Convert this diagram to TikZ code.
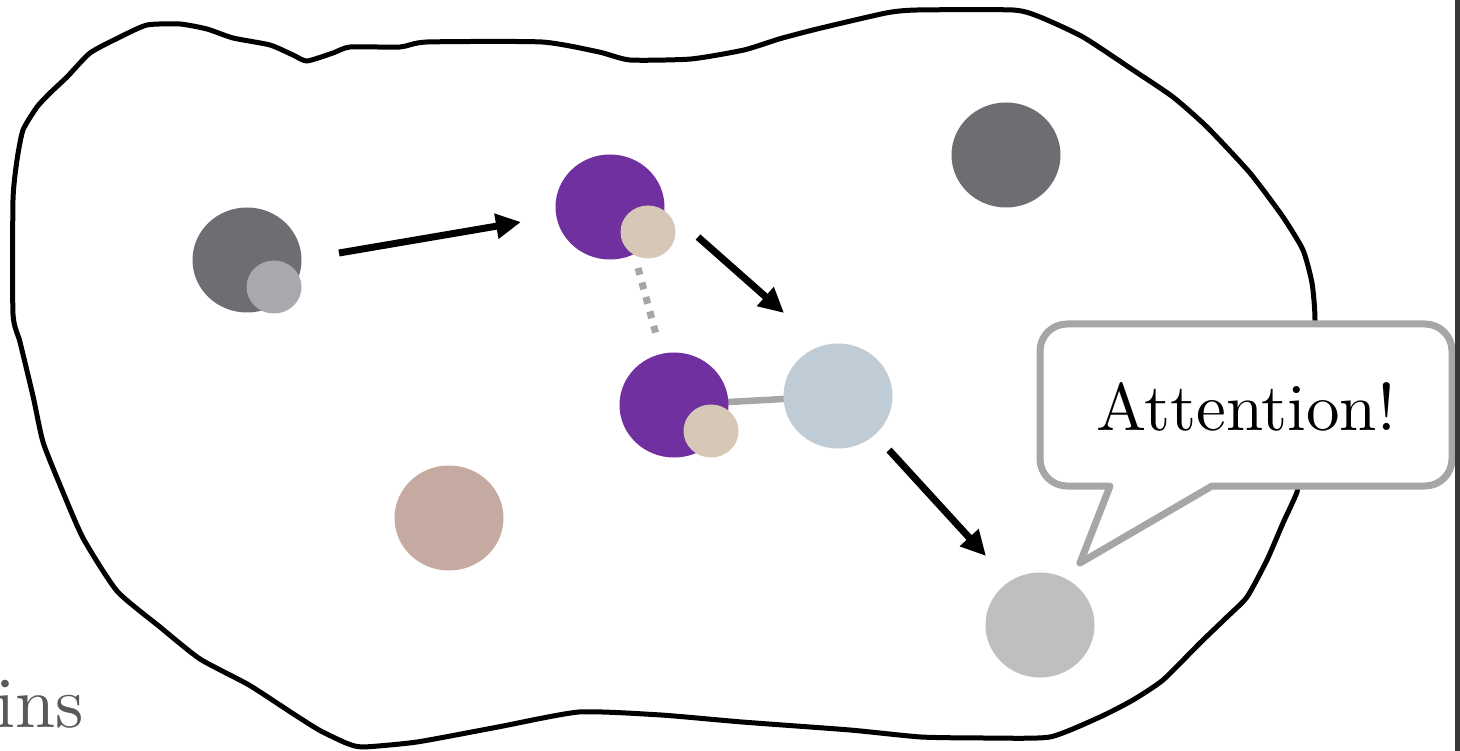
\documentclass[tikz,border=0pt]{standalone}
\usetikzlibrary{arrows.meta,shapes.geometric}
\pgfdeclarelayer{back}
\pgfsetlayers{back,main}
\definecolor{darkball}{HTML}{6E6D72}
\definecolor{lightdisc}{HTML}{A9A8AC}
\definecolor{purpleball}{HTML}{7030A0}
\definecolor{beigedisc}{HTML}{D6C7B6}
\definecolor{blueball}{HTML}{BFCBD5}
\definecolor{tanball}{HTML}{C4AAA0}
\definecolor{greyball}{HTML}{BFBFBF}
\definecolor{conngrey}{HTML}{A6A6A6}
\definecolor{barcol}{HTML}{383838}
\definecolor{inscol}{HTML}{58585D}
\begin{document}
\begin{tikzpicture}[x=1pt,y=-1pt,
  bigdisc/.style={ellipse, minimum width=109pt, minimum height=105pt, inner sep=0pt, draw=none, fill=#1},
  smalldisc/.style={ellipse, minimum width=55pt, minimum height=53pt, inner sep=0pt, draw=none, fill=#1},
  arrowline/.style={line width=7pt, -{Triangle[length=25pt,width=24pt]}},
  blobline/.style={line width=5pt, line join=round},
  calloutline/.style={line width=7pt, draw=conngrey, fill=white, line join=round}]
\useasboundingbox (0,0) rectangle (1460,751);
\begin{pgfonlayer}{back}
\fill[white] (0,0) rectangle (1460,751);
\draw[blobline] plot[smooth cycle, tension=0.35] coordinates {
(13,200) (17,160) (23,130) (37,107) (50,93) (67,77) (90,53) (120,37) (147,25) (180,24) (207,29) (233,38) (270,45) (293,55) (307,61) (333,53) (350,47) (400,47) (427,42) (542,42) (599,52) (630,60) (691,59) (744,50) (779,39) (817,29) (886,13) (917,10) (1013,10) (1040,17) (1083,37) (1133,70) (1173,97) (1207,127) (1250,173) (1283,217) (1303,250) (1312,283) (1315,320) (1312,400) (1300,470) (1297,492) (1283,523) (1267,560) (1247,597) (1227,617) (1200,643) (1163,680) (1133,700) (1100,717) (1050,737) (986,738) (921,737) (850,730) (742,722) (661,715) (579,712) (498,727) (417,742) (363,747) (346,743) (319,730) (292,713) (249,685) (200,659) (160,627) (117,591) (83,538) (60,485) (43,442) (33,396) (20,342) (13,314)};
\end{pgfonlayer}

% text fragment at left
\node[anchor=base east, inner sep=0pt, text=inscol] (ins) at (84,727) {\scalebox{7.2}{\fontsize{10}{12}\selectfont ins}};

% balls
\node[bigdisc=darkball] (g1) at (247,260) {};
\node[smalldisc=lightdisc] (g1s) at (274,287) {};
\node[bigdisc=purpleball] (p1) at (610,207) {};
\node[smalldisc=beigedisc] (p1s) at (648,232) {};
\node[bigdisc=purpleball] (p2) at (674,405) {};
\node[smalldisc=beigedisc] (p2s) at (711,431) {};
\node[bigdisc=blueball] (lb) at (838,396) {};
\node[bigdisc=greyball] (gb) at (1040,625) {};
\node[bigdisc=darkball] (g2) at (1006,155) {};
\node[bigdisc=tanball] (tb) at (449,518) {};

% solid grey link behind balls
\begin{pgfonlayer}{back}
\draw[conngrey, line width=6.5pt] (p2.center) -- (lb.center);
\end{pgfonlayer}

% arrow end points
\coordinate (a1s) at (339,253);
\coordinate (a1e) at (521,222);
\coordinate (a2s) at (698,237);
\coordinate (a2e) at (784,313);
\coordinate (a3s) at (889,450);
\coordinate (a3e) at (986,556);
\coordinate (d1s) at (638,268);
\coordinate (d1e) at (657,338);

\draw[arrowline] (a1s) -- (a1e);
\draw[arrowline] (a2s) -- (a2e);
\draw[arrowline] (a3s) -- (a3e);
\draw[conngrey, line width=7pt, dash pattern=on 7pt off 8pt] (d1s) -- (d1e);

% callout
\draw[calloutline] (1110,486) -- (1080,563) -- (1212,486) -- (1425,486)
  arc (90:0:27) -- (1452,351) arc (0:-90:27) -- (1067,324)
  arc (270:180:27) -- (1040,459) arc (180:90:27) -- cycle;
\node[anchor=base, inner sep=0pt] (att) at (1246,430) {\scalebox{6.7}{\fontsize{10}{12}\selectfont Attention!}};

% right edge bar
\fill[barcol] (1455,0) rectangle (1460,751);
\end{tikzpicture}
\end{document}
